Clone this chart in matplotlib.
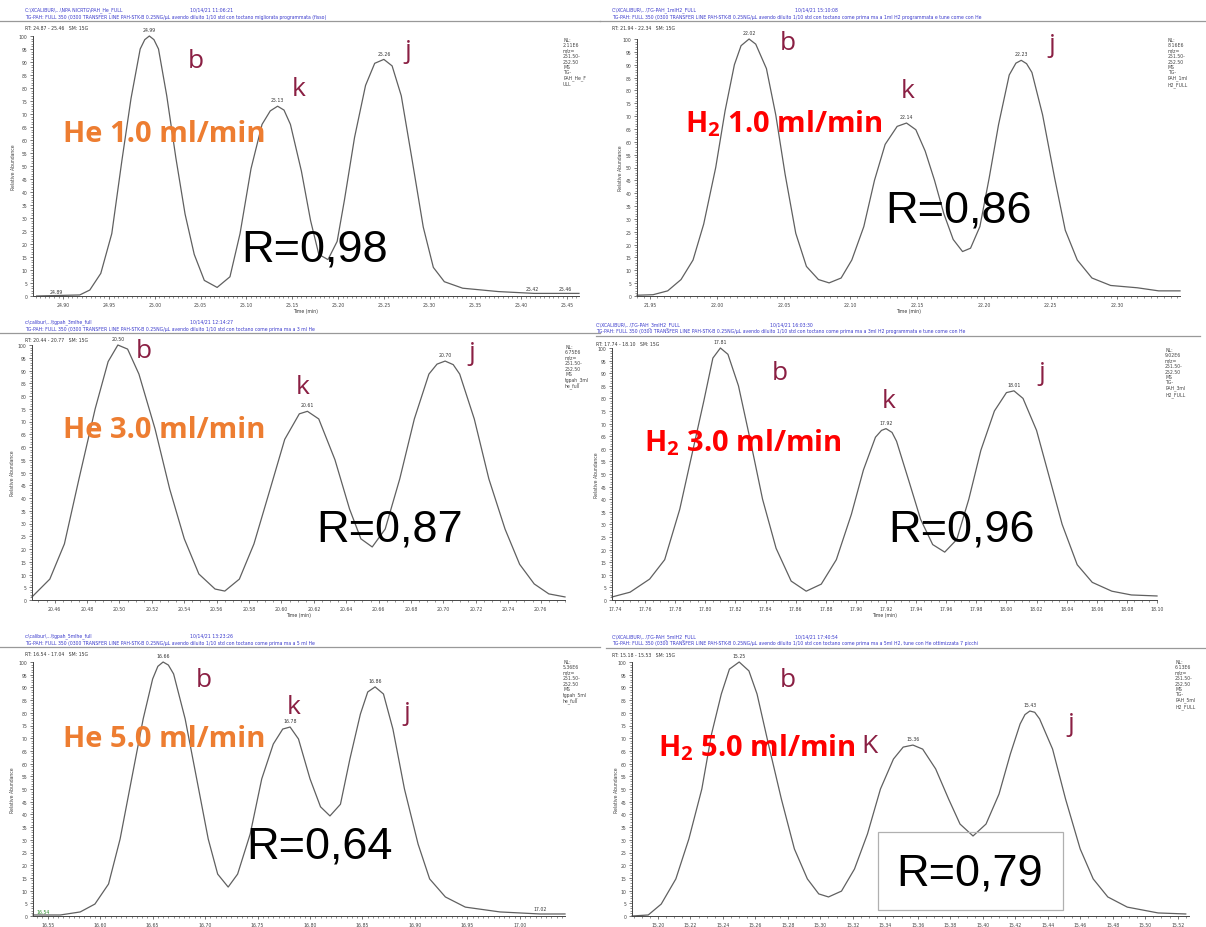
import matplotlib
matplotlib.use("Agg")
import matplotlib.pyplot as plt
from matplotlib.ticker import MultipleLocator, AutoMinorLocator, FormatStrFormatter
from matplotlib.patches import Rectangle

plt.rcParams['mathtext.fontset'] = 'custom'
plt.rcParams['mathtext.rm'] = 'Open Sans'
plt.rcParams['mathtext.bf'] = 'Open Sans:bold'

W, H = 1206, 928

# ---- He 1.0 ml/min ----
he1_t = [24.871, 24.918, 24.929, 24.941, 24.953, 24.964, 24.974, 24.984, 24.989, 24.994,
         24.999, 25.004, 25.013, 25.023, 25.033, 25.043, 25.054, 25.068, 25.082, 25.093,
         25.105, 25.117, 25.126, 25.134, 25.141, 25.148, 25.160, 25.170, 25.179, 25.189,
         25.199, 25.207, 25.218, 25.230, 25.240, 25.250, 25.259, 25.269, 25.281, 25.293,
         25.304, 25.316, 25.336, 25.375, 25.414, 25.463]
he1_a = [0, 0.4, 2.3, 8.7, 24, 52, 76, 95, 98.6, 100,
         98.6, 95, 77, 53, 31.5, 16, 6, 3.3, 7.4, 24,
         49, 66, 71.2, 73, 71.5, 66, 48, 29, 16, 14,
         21, 37, 61, 81, 89.5, 91, 88.5, 77, 52, 26.5,
         11, 5.5, 3, 1.7, 1, 1]
he1_apex_t = [24.994, 25.134, 25.250]
he1_apex_a = [100, 73, 91]
he1_apex_lab = ['24.99', '25.13', '25.26']

# ---- H2 1.0 ml/min ----
h1_t = [21.940, 21.952, 21.963, 21.973, 21.982, 21.990, 21.999, 22.006, 22.013, 22.018,
        22.024, 22.029, 22.037, 22.044, 22.051, 22.059, 22.067, 22.076, 22.084, 22.093,
        22.101, 22.110, 22.118, 22.126, 22.135, 22.142, 22.149, 22.156, 22.163, 22.170,
        22.177, 22.184, 22.190, 22.197, 22.204, 22.211, 22.219, 22.224, 22.228, 22.232,
        22.236, 22.244, 22.253, 22.261, 22.270, 22.281, 22.295, 22.315, 22.331, 22.347]
h1_a = [0.3, 0.5, 2, 6.4, 14, 28, 50, 72, 90, 97.4,
        100, 98, 88.5, 70.5, 47.4, 24.4, 11.5, 6.4, 5.1, 7,
        14, 27, 45, 59, 66, 67.3, 64.7, 56.4, 45, 32,
        22, 17.3, 18.6, 27, 46, 66.7, 86, 90.6, 91.7, 90.4,
        87, 70.5, 46, 25.6, 14, 7, 4.1, 3.2, 2, 2]
h1_apex_t = [22.024, 22.142, 22.228]
h1_apex_a = [100, 67.3, 91.7]
h1_apex_lab = ['22.02', '22.14', '22.23']

# ---- He 3.0 ml/min ----
he3_t = [20.446, 20.457, 20.466, 20.475, 20.485, 20.493, 20.499, 20.505, 20.512, 20.522,
         20.531, 20.540, 20.549, 20.559, 20.565, 20.574, 20.583, 20.593, 20.602, 20.611,
         20.616, 20.623, 20.633, 20.642, 20.649, 20.656, 20.664, 20.673, 20.682, 20.691,
         20.696, 20.701, 20.706, 20.710, 20.719, 20.728, 20.738, 20.747, 20.756, 20.765,
         20.775]
he3_a = [1.2, 8.2, 22, 47.5, 75, 93.5, 100, 98.4, 88.6, 67,
         43.5, 24, 10.2, 4.3, 3.5, 8.2, 22, 43.5, 63, 73,
         74, 71, 55, 35.7, 24, 20.8, 27.8, 47.5, 71, 88.6,
         92.5, 93.7, 92.3, 88.6, 71, 47.5, 27.8, 14, 6.3, 2.4,
         1.2]
he3_apex_t = [20.499, 20.616, 20.701]
he3_apex_a = [100, 74, 93.7]
he3_apex_lab = ['20.50', '20.61', '20.70']

# ---- H2 3.0 ml/min ----
h3_t = [17.738, 17.750, 17.763, 17.773, 17.783, 17.791, 17.799, 17.805, 17.810, 17.815,
        17.822, 17.830, 17.838, 17.847, 17.857, 17.867, 17.877, 17.887, 17.897, 17.905,
        17.913, 17.917, 17.920, 17.924, 17.927, 17.935, 17.943, 17.951, 17.959, 17.967,
        17.975, 17.983, 17.992, 18.000, 18.005, 18.011, 18.020, 18.029, 18.037, 18.047,
        18.057, 18.070, 18.083, 18.100]
h3_a = [1.2, 3.1, 8.3, 16, 36, 57.5, 79, 96, 100, 97.5,
        85, 63, 40, 20.5, 7.5, 3.5, 6.3, 16, 34, 51.6,
        64.6, 67.3, 68, 66.5, 63, 47.6, 32, 22, 19, 24,
        40, 59.4, 75, 82.3, 83, 80, 67.3, 47.6, 30, 14,
        7, 3.5, 2, 1.6]
h3_apex_t = [17.810, 17.920, 18.005]
h3_apex_a = [100, 68, 83]
h3_apex_lab = ['17.81', '17.92', '18.01']

# ---- He 5.0 ml/min ----
he5_t = [16.536, 16.562, 16.581, 16.595, 16.608, 16.619, 16.630, 16.641, 16.650, 16.655,
         16.660, 16.665, 16.670, 16.681, 16.692, 16.703, 16.712, 16.722, 16.731, 16.743,
         16.754, 16.765, 16.774, 16.781, 16.789, 16.800, 16.810, 16.819, 16.829, 16.838,
         16.848, 16.855, 16.862, 16.870, 16.879, 16.890, 16.903, 16.914, 16.929, 16.948,
         16.981, 17.019, 17.043]
he5_a = [0.4, 0.4, 1.6, 4.7, 12.6, 30.3, 54, 77.6, 93.3, 98.3,
         100, 98.8, 95.3, 77.6, 54, 30.3, 16.5, 11.4, 16.5, 32.3,
         54, 67.7, 73.6, 74.4, 69.7, 54, 43, 39.4, 44, 61.8,
         79.5, 88.2, 90.2, 87.4, 73.6, 50, 28.3, 14.6, 7.5, 3.5,
         1.6, 0.8, 0.8]
he5_apex_t = [16.660, 16.781, 16.862]
he5_apex_a = [100, 74.4, 90.2]
he5_apex_lab = ['16.66', '16.78', '16.86']

# ---- H2 5.0 ml/min ----
h5_t = [15.184, 15.194, 15.202, 15.211, 15.219, 15.227, 15.233, 15.239, 15.244, 15.250,
        15.256, 15.261, 15.268, 15.276, 15.284, 15.292, 15.299, 15.305, 15.313, 15.321,
        15.329, 15.337, 15.345, 15.351, 15.357, 15.363, 15.371, 15.379, 15.386, 15.394,
        15.402, 15.410, 15.417, 15.423, 15.426, 15.429, 15.432, 15.435, 15.443, 15.451,
        15.460, 15.468, 15.477, 15.489, 15.508, 15.525]
h5_a = [0, 0.4, 4.7, 14.6, 30.3, 50, 71.7, 87.4, 97.2, 100,
        96.5, 87.4, 67.7, 46, 26.4, 14.6, 8.7, 7.5, 9.8, 18.5,
        32.3, 50, 61.8, 66.5, 67.3, 65.7, 57.9, 46, 36.2, 31.5,
        36.2, 48, 63.8, 75.6, 79.3, 80.7, 80.2, 77.6, 65.7, 46,
        26.4, 14.6, 7.5, 3.5, 1.2, 0.8]
h5_apex_t = [15.250, 15.357, 15.429]
h5_apex_a = [100, 67.3, 80.7]
h5_apex_lab = ['15.25', '15.36', '15.43']

blue = '#3a3acc'
maroon = '#8a1f43'
orange = '#ed7d31'
red = '#ff0000'

fig = plt.figure(figsize=(W / 100, H / 100), dpi=100)
fig.patch.set_facecolor('white')


def ft(x, y, s, **kw):
    return fig.text(x / W, 1 - y / H, s, **kw)


panels = [
    dict(t=he1_t, a=he1_a, pt=he1_apex_t, pa=he1_apex_a, pl=he1_apex_lab,
         xlim=(24.867, 25.463), major=0.05, minor=10, box=(33, 579, 37, 297), xlab=True),
    dict(t=h1_t, a=h1_a, pt=h1_apex_t, pa=h1_apex_a, pl=h1_apex_lab,
         xlim=(21.940, 22.347), major=0.05, minor=10, box=(637, 1180, 40, 297), xlab=True),
    dict(t=he3_t, a=he3_a, pt=he3_apex_t, pa=he3_apex_a, pl=he3_apex_lab,
         xlim=(20.446, 20.775), major=0.02, minor=4, box=(32, 565, 346, 601), xlab=True),
    dict(t=h3_t, a=h3_a, pt=h3_apex_t, pa=h3_apex_a, pl=h3_apex_lab,
         xlim=(17.738, 18.100), major=0.02, minor=4, box=(612, 1157, 349, 601), xlab=True),
    dict(t=he5_t, a=he5_a, pt=he5_apex_t, pa=he5_apex_a, pl=he5_apex_lab,
         xlim=(16.536, 17.043), major=0.05, minor=10, box=(33, 565, 663, 917), xlab=False),
    dict(t=h5_t, a=h5_a, pt=h5_apex_t, pa=h5_apex_a, pl=h5_apex_lab,
         xlim=(15.184, 15.527), major=0.02, minor=4, box=(632, 1189, 663, 917), xlab=False),
]

for p in panels:
    l, r, top, bot = p['box']
    ax = fig.add_axes([l / W, 1 - bot / H, (r - l) / W, (bot - top) / H])
    ax.plot(p['t'], p['a'], color='#606060', lw=0.9, clip_on=False, solid_joinstyle='round')
    for tt, aa, lab in zip(p['pt'], p['pa'], p['pl']):
        ax.text(tt, aa + 1.5, lab, fontsize=3.3, ha='center', va='bottom', color='#333333')
    ax.set_xlim(*p['xlim'])
    ax.set_ylim(0, 100)
    ax.xaxis.set_major_locator(MultipleLocator(p['major']))
    ax.xaxis.set_minor_locator(AutoMinorLocator(p['minor']))
    ax.xaxis.set_major_formatter(FormatStrFormatter('%.2f'))
    ax.yaxis.set_major_locator(MultipleLocator(5))
    ax.yaxis.set_minor_locator(AutoMinorLocator(5))
    ax.tick_params(which='major', length=2.5, width=0.5, labelsize=3.3, pad=1.5, colors='#444444')
    ax.tick_params(which='minor', length=1.3, width=0.4, colors='#444444')
    for s in ['top', 'right']:
        ax.spines[s].set_visible(False)
    for s in ['left', 'bottom']:
        ax.spines[s].set_linewidth(0.7)
        ax.spines[s].set_color('#444444')
    if p['xlab']:
        ax.set_xlabel('Time (min)', fontsize=3.3, labelpad=1, color='#333333')
    ax.patch.set_alpha(0)

# ylabels
for x, y in [(14, 167), (621, 168), (13, 473), (597, 475), (13, 790), (617, 790)]:
    ft(x, y, 'Relative Abundance', fontsize=3.3, rotation=90, ha='center', va='center', color='#444444')

# headers
headers = [
    (25, 10, 190, r'C:\XCALIBUR\...\NPA NICRTG\PAH_He_FULL', '10/14/21 11:06:21',
     'TG-PAH: FULL 350 (0300 TRANSFER LINE PAH-STK-B 0.25NG/µL avendo diluito 1/10 std con toctano migliorata programmata (fisso)',
     'RT: 24.87 - 25.46   SM: 15G', 0, 600),
    (612, 10, 795, r'C:\XCALIBUR\...\TG-PAH_1mlH2_FULL', '10/14/21 15:10:08',
     'TG-PAH: FULL 350 (0300 TRANSFER LINE PAH-STK-B 0.25NG/µL avendo diluito 1/10 std con toctano come prima ma a 1ml H2 programmata e tune come con He',
     'RT: 21.94 - 22.34   SM: 15G', 600, 1206),
    (25, 322, 190, r'c:\calibur\...\tgpah_3mlhe_full', '10/14/21 12:14:27',
     'TG-PAH: FULL 350 (0300 TRANSFER LINE PAH-STK-B 0.25NG/µL avendo diluito 1/10 std con toctano come prima ma a 3 ml He',
     'RT: 20.44 - 20.77   SM: 15G', 0, 600),
    (596, 325, 770, r'C:\XCALIBUR\...\TG-PAH_3mlH2_FULL', '10/14/21 16:03:30',
     'TG-PAH: FULL 350 (0300 TRANSFER LINE PAH-STK-B 0.25NG/µL avendo diluito 1/10 std con toctano come prima ma a 3ml H2 programmata e tune come con He',
     'RT: 17.74 - 18.10   SM: 15G', 596, 1200),
    (25, 636, 190, r'c:\calibur\...\tgpah_5mlhe_full', '10/14/21 13:23:26',
     'TG-PAH: FULL 350 (0300 TRANSFER LINE PAH-STK-B 0.25NG/µL avendo diluito 1/10 std con toctano come prima ma a 5 ml He',
     'RT: 16.54 - 17.04   SM: 15G', 0, 600),
    (612, 637, 795, r'C:\XCALIBUR\...\TG-PAH_5mlH2_FULL', '10/14/21 17:40:54',
     'TG-PAH: FULL 350 (0300 TRANSFER LINE PAH-STK-B 0.25NG/µL avendo diluito 1/10 std con toctano come prima ma a 5ml H2, tune con He ottimizzata 7 picchi',
     'RT: 15.18 - 15.53   SM: 15G', 606, 1206),
]
for x, y, xd, path, date, desc, rt, r0, r1 in headers:
    ft(x, y, path, fontsize=3.3, color=blue, va='center')
    ft(xd, y, date, fontsize=3.3, color=blue, va='center')
    ft(x, y + 7, desc, fontsize=3.3, color=blue, va='center')
    fig.add_artist(plt.Line2D([r0 / W, r1 / W], [1 - (y + 12) / H] * 2, color='#999999', lw=0.9))
    ft(x, y + 19, rt, fontsize=3.3, color='#333333', va='center')

# NL blocks
nl = [
    (563, 38, 'NL:\n2.11E6\nm/z=\n251.50-\n252.50\nMS\nTG-\nPAH_He_F\nULL'),
    (1168, 38, 'NL:\n8.16E6\nm/z=\n251.50-\n252.50\nMS\nTG-\nPAH_1ml\nH2_FULL'),
    (565, 345, 'NL:\n6.75E6\nm/z=\n251.50-\n252.50\nMS\ntgpah_3ml\nhe_full'),
    (1165, 348, 'NL:\n9.02E6\nm/z=\n251.50-\n252.50\nMS\nTG-\nPAH_3ml\nH2_FULL'),
    (563, 660, 'NL:\n5.36E6\nm/z=\n251.50-\n252.50\nMS\ntgpah_5ml\nhe_full'),
    (1175, 660, 'NL:\n6.13E6\nm/z=\n251.50-\n252.50\nMS\nTG-\nPAH_5ml\nH2_FULL'),
]
for x, y, s in nl:
    ft(x, y, s, fontsize=3.3, color='#444444', va='top', linespacing=1.1)

# baseline labels
ft(56, 294, '24.89', fontsize=3.3, color='#333333', ha='center')
ft(532, 291, '25.42', fontsize=3.3, color='#333333', ha='center')
ft(565, 291, '25.46', fontsize=3.3, color='#333333', ha='center')
ft(43, 914, '16.54', fontsize=3.3, color='#2a8a2a', ha='center')
ft(540, 911, '17.02', fontsize=3.3, color='#333333', ha='center')

# peak letters
letters = [
    (196, 62, 'b'), (299, 89, 'k'), (408, 52, 'j'),
    (788, 44, 'b'), (908, 92, 'k'), (1052, 45, 'j'),
    (144, 352, 'b'), (303, 388, 'k'), (472, 354, 'j'),
    (780, 374, 'b'), (889, 401, 'k'), (1042, 373, 'j'),
    (204, 681, 'b'), (294, 708, 'k'), (407, 714, 'j'),
    (788, 681, 'b'), (869, 747, 'K'), (1071, 725, 'j'),
]
for x, y, s in letters:
    ft(x, y, s, fontsize=19, color=maroon, ha='center', va='center', family='Open Sans')

# flow labels
flows = [
    (164, 135, 'He 1.0 ml/min', orange),
    (784, 124, r'H$_\mathbf{2}$ 1.0 ml/min', red),
    (164, 431, 'He 3.0 ml/min', orange),
    (743, 443, r'H$_\mathbf{2}$ 3.0 ml/min', red),
    (164, 740, 'He 5.0 ml/min', orange),
    (757, 748, r'H$_\mathbf{2}$ 5.0 ml/min', red),
]
for x, y, s, c in flows:
    ft(x, y, s, fontsize=21, color=c, ha='center', va='center', family='Open Sans', weight='bold')

# resolution values
res = [(315, 250, 'R=0,98'), (958, 211, 'R=0,86'), (390, 530, 'R=0,87'),
       (962, 530, 'R=0,96'), (320, 847, 'R=0,64'), (970, 874, 'R=0,79')]
for x, y, s in res:
    ft(x, y, s, fontsize=32.5, color='black', ha='center', va='center', family='Liberation Sans')

fig.add_artist(Rectangle((878 / W, 1 - 911 / H), 185 / W, 78 / H, transform=fig.transFigure,
                         fill=False, edgecolor='#b0b0b0', lw=0.9))

fig.savefig('out.png', dpi=100, facecolor='white')
